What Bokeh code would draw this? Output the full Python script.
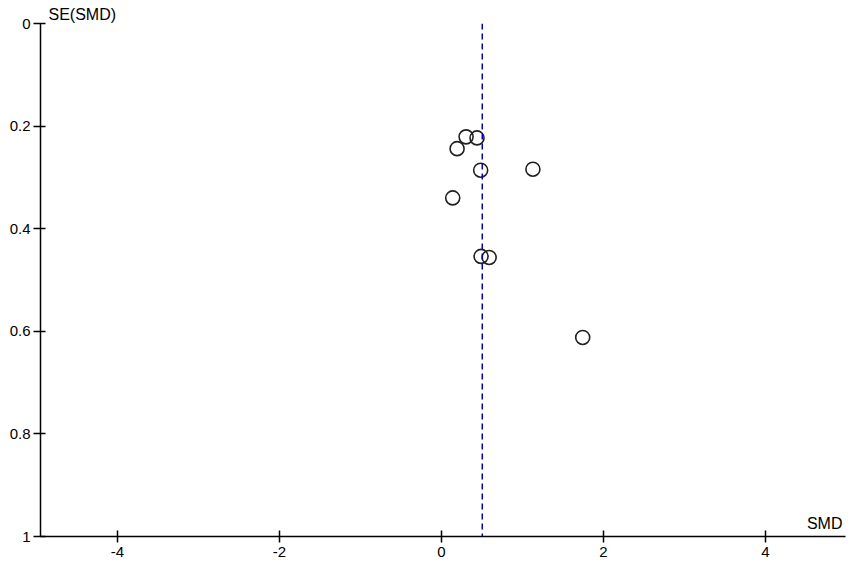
from bokeh.plotting import figure
from bokeh.models import Range1d, FixedTicker, Span, Label
from bokeh.embed import file_html
from bokeh.resources import INLINE

# Study effect sizes (SMD) and their standard errors
smd = [0.305, 0.44, 0.194, 0.485, 1.13, 0.14, 0.49, 0.59, 1.745]
se = [0.221, 0.223, 0.244, 0.286, 0.284, 0.34, 0.454, 0.456, 0.612]
pooled_smd = 0.505

x_ticks = [-4, -2, 0, 2, 4]
x_tick_labels = ["-4", "-2", "0", "2", "4"]
y_ticks = [0, 0.2, 0.4, 0.6, 0.8, 1]
y_tick_labels = ["0", "0.2", "0.4", "0.6", "0.8", "1"]

FONT = "Liberation Sans"

p = figure(width=851, height=564, output_backend="svg", toolbar_location=None,
           x_range=Range1d(-4.95, 4.99), y_range=Range1d(1, 0),
           min_border_left=40, min_border_right=6, min_border_top=23,
           min_border_bottom=28)
p.outline_line_color = None
p.xgrid.visible = False
p.ygrid.visible = False
p.background_fill_color = "white"

p.title.text = "SE(SMD)"
p.title.align = "left"
p.title.offset = 8
p.title.standoff = 1
p.title.text_font = FONT
p.title.text_font_size = "16px"
p.title.text_font_style = "normal"
p.title.text_color = "black"

for ax in (p.xaxis[0], p.yaxis[0]):
    ax.axis_line_color = "black"
    ax.axis_line_width = 1.5
    ax.major_tick_line_color = "black"
    ax.major_tick_line_width = 1.5
    ax.minor_tick_line_color = None
    ax.major_label_text_font = FONT
    ax.major_label_text_font_size = "15px"
    ax.major_label_text_color = "black"

p.xaxis.ticker = FixedTicker(ticks=x_ticks)
p.xaxis.major_label_overrides = {t: l for t, l in zip(x_ticks, x_tick_labels)}
p.xaxis.major_tick_in = 6
p.xaxis.major_tick_out = 6
p.xaxis.major_label_standoff = 4

p.yaxis.ticker = FixedTicker(ticks=y_ticks)
p.yaxis.major_label_overrides = {t: l for t, l in zip(y_ticks, y_tick_labels)}
p.yaxis.major_tick_in = 5
p.yaxis.major_tick_out = 7
p.yaxis.major_label_standoff = 3

p.add_layout(Span(location=pooled_smd, dimension="height", line_color="#0000A8",
                  line_width=1.5, line_dash="6 4"))

p.scatter(smd, se, size=14, marker="circle", fill_color=None,
          line_color="#202020", line_width=1.6)

p.add_layout(Label(x=4.99, y=1, x_offset=-3, y_offset=5, text="SMD",
                   text_font=FONT, text_font_size="16px", text_color="black",
                   text_baseline="bottom", text_align="right"))

open("out.html", "w").write(file_html(p, INLINE))
